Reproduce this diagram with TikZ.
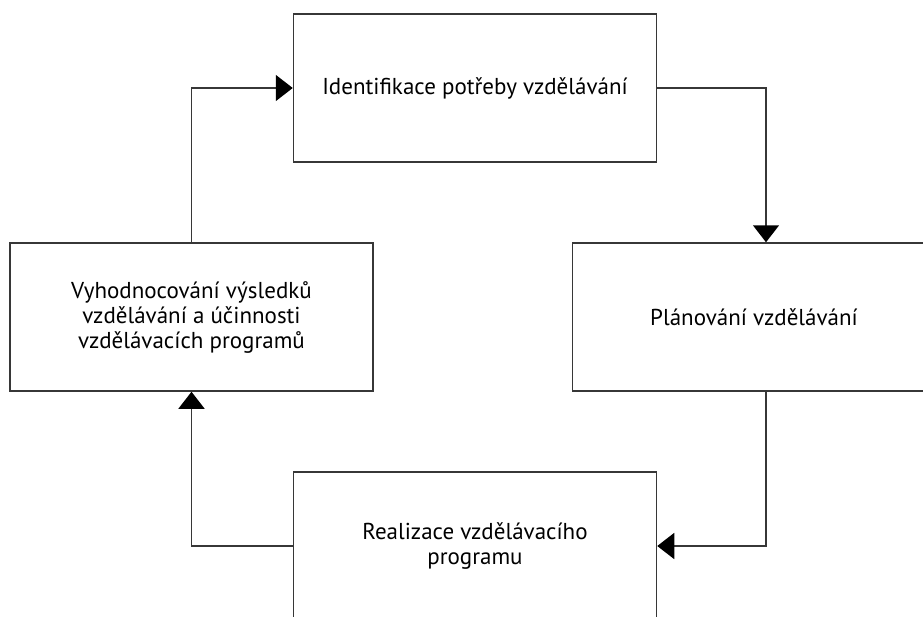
\documentclass[tikz,border=0pt]{standalone}
\usepackage{fontspec}
\setmainfont{PT Sans}
\usepackage{tikz}
\usetikzlibrary{arrows.meta}
\definecolor{Line}{RGB}{55,55,55}
\tikzstyle{Box}=[draw=Line,line width=1.5pt,minimum width=363pt,minimum height=148pt,
align=center,inner sep=0pt,font=\fontsize{23}{25}\selectfont]
\tikzstyle{Edge}=[draw=Line,line width=1.5pt,-{Triangle[width=26pt,length=17pt,color=black]}]

\begin{document}
\begin{tikzpicture}[x=1pt,y=-1pt]
        \useasboundingbox (0,0) rectangle (923,616);
        \node[Box](I)at(475,88){Identifikace potřeby vzdělávání};
        \node[Box](P)at(754,317){Plánování vzdělávání};
        \node[Box](R)at(475,546){Realizace vzdělávacího\\programu};
        \node[Box](V)at(191.5,317){Vyhodnocování výsledků\\vzdělávání a účinnosti\\vzdělávacích programů};
        \draw[Edge](V.north)|-(I.west);
        \draw[Edge](I.east)-|([xshift=12]P.north);
        \draw[Edge]([xshift=12]P.south)|-(R.east);
        \draw[Edge](R.west)-|(V.south);
    \end{tikzpicture}
\end{document}
